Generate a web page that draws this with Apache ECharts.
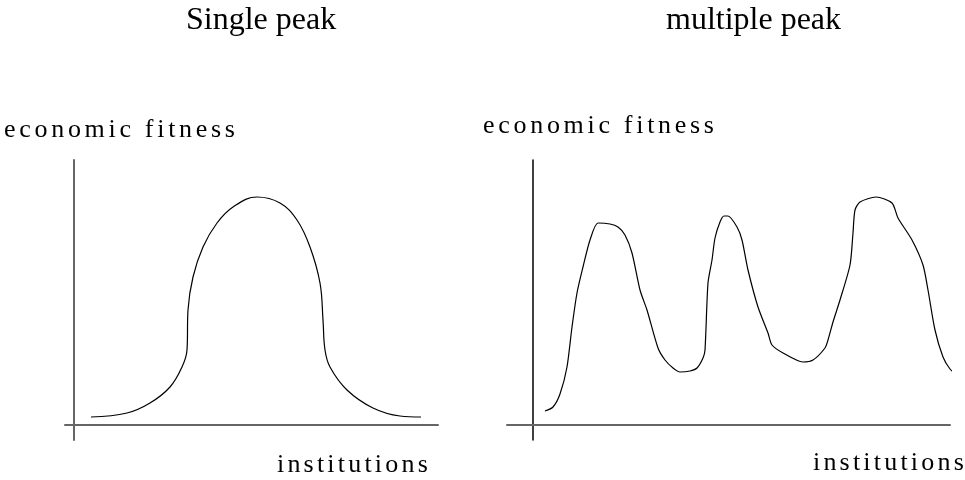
<!DOCTYPE html>
<html>
<head>
<meta charset="utf-8">
<script src="https://cdn.jsdelivr.net/npm/echarts@6/dist/echarts.min.js"></script>
<style>
html,body{margin:0;padding:0;background:#fff;}
#chart{width:965px;height:480px;}
</style>
</head>
<body>
<div id="chart"></div>
<script>
// ---- data ----
const panelTitles = ['Single peak', 'multiple peak'];
const yAxisName = 'economic fitness';
const xAxisName = 'institutions';

const singleX = [17, 53, 76, 96, 108, 113, 114, 119, 129, 143, 159, 183, 206, 223, 236, 246, 249, 251, 256, 273, 299, 326, 347];
const singleY = [8, 12, 22, 38, 58, 75, 115, 148, 178, 202, 218, 228, 222, 205, 178, 142, 105, 75, 58, 35, 17, 9, 8];

const multiX = [12, 20, 27, 34, 39, 44, 50, 57, 65, 77, 85, 92, 99, 107, 114, 125, 132, 140, 147, 157, 164, 170, 172, 175, 179, 182, 187, 191, 195, 204, 209, 215, 225, 235, 239, 250, 270, 280, 292, 295, 300, 307, 317, 320, 322, 327, 343, 359, 365, 379, 390, 395, 402, 410, 417, 423];
const multiY = [14, 18, 31, 58, 98, 132, 158, 185, 202, 201, 198, 190, 172, 135, 115, 77, 65, 57, 53, 54, 57, 67, 75, 142, 165, 187, 203, 209, 209, 198, 185, 155, 118, 92, 80, 72, 63, 65, 77, 85, 103, 125, 160, 192, 215, 223, 228, 222, 207, 185, 160, 135, 95, 68, 56, 51];

// letter spacing for widely spaced labels (canvas letterSpacing)
const spacing = {};
spacing[yAxisName] = '3.7px';
spacing[xAxisName] = '3.2px';
(function () {
  const proto = CanvasRenderingContext2D.prototype;
  const orig = proto.fillText;
  proto.fillText = function (t, x, y, w) {
    if (spacing[t] && 'letterSpacing' in this) {
      const prev = this.letterSpacing;
      this.letterSpacing = spacing[t];
      const r = w === undefined ? orig.call(this, t, x, y) : orig.call(this, t, x, y, w);
      this.letterSpacing = prev;
      return r;
    }
    return orig.apply(this, arguments);
  };
})();

function pairs(xs, ys) { return xs.map((x, i) => [x, ys[i]]); }

const chart = echarts.init(document.getElementById('chart'), null, { renderer: 'canvas' });

const hidden = { axisTick: { show: false }, axisLabel: { show: false }, splitLine: { show: false } };
const FONT = '"Liberation Serif", "Times New Roman", serif';

function txt(text, x, y, size) {
  return {
    type: 'text', x: x, y: y, silent: true,
    style: { text: text, fill: '#000', font: size + 'px ' + FONT, textAlign: 'left', textVerticalAlign: 'middle' }
  };
}

chart.setOption({
  animation: false,
  backgroundColor: '#fff',
  grid: [
    { left: 65, top: 160, width: 373, height: 280 },
    { left: 507, top: 160, width: 443, height: 280 }
  ],
  xAxis: [
    Object.assign({ type: 'value', gridIndex: 0, min: -9, max: 364,
      axisLine: { show: true, onZero: true, lineStyle: { color: '#666', width: 2 } } }, hidden),
    Object.assign({ type: 'value', gridIndex: 1, min: -26, max: 417,
      axisLine: { show: true, onZero: true, lineStyle: { color: '#666', width: 2 } } }, hidden)
  ],
  yAxis: [
    Object.assign({ type: 'value', gridIndex: 0, min: -15, max: 265,
      axisLine: { show: true, onZero: true, lineStyle: { color: '#666', width: 2 } } }, hidden),
    Object.assign({ type: 'value', gridIndex: 1, min: -15, max: 265,
      axisLine: { show: true, onZero: true, lineStyle: { color: '#000', width: 1.5 } } }, hidden)
  ],
  series: [
    { type: 'line', xAxisIndex: 0, yAxisIndex: 0, data: pairs(singleX, singleY),
      smooth: 0.4, showSymbol: false, clip: false, lineStyle: { color: '#000', width: 1.2 } },
    { type: 'line', xAxisIndex: 1, yAxisIndex: 1, data: pairs(multiX, multiY),
      smooth: 0.25, showSymbol: false, clip: false, lineStyle: { color: '#000', width: 1.2 } }
  ],
  graphic: [
    txt(panelTitles[0], 186, 20.5, 32),
    txt(panelTitles[1], 666, 20.5, 32),
    txt(yAxisName, 4, 130, 26),
    txt(yAxisName, 483, 126, 26),
    txt(xAxisName, 277, 465, 26),
    txt(xAxisName, 813, 463, 26)
  ]
});
</script>
</body>
</html>
